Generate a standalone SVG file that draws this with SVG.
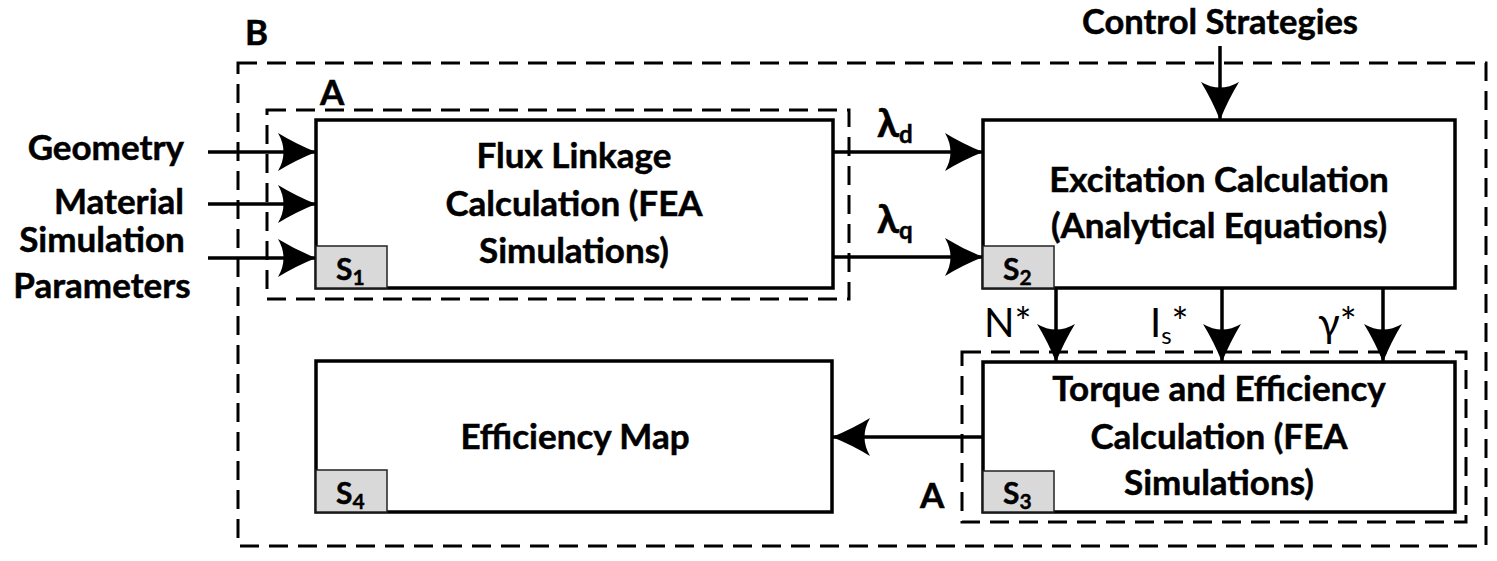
<svg xmlns="http://www.w3.org/2000/svg" width="1497" height="561" viewBox="0 0 1497 561">
<style>
.t{font-family:Lato,"Open Sans","Liberation Sans",sans-serif;font-weight:bold;font-size:35px;fill:#000;stroke:#000;stroke-width:0.5}
.r{font-family:Lato,"Open Sans","Liberation Sans",sans-serif;font-weight:normal;font-size:40px;fill:#000}
.box{fill:#fff;stroke:#000;stroke-width:3.5}
.sbox{fill:#d9d9d9;stroke:#222;stroke-width:1.5}
.dash{fill:none;stroke:#000;stroke-width:3;stroke-dasharray:19 10}
.ln{fill:none;stroke:#000;stroke-width:3.5}
.s{font-family:Lato,"Open Sans","Liberation Sans",sans-serif;font-weight:bold;font-size:30px;fill:#000;stroke:#000;stroke-width:0.4}
.lam{font-family:Lato,"Open Sans","Liberation Sans",sans-serif;font-weight:bold;font-size:40px;fill:#000;stroke:#000;stroke-width:0.5}
.sub{font-size:21px}
.sub2{font-size:24px}
</style>
<defs>
<marker id="ah" markerUnits="userSpaceOnUse" viewBox="-40 -20 42 40" refX="0" refY="0" markerWidth="42" markerHeight="40" orient="auto">
<path d="M0,0 Q-20,-8 -38,-19 Q-27,0 -38,19 Q-20,8 0,0 Z" fill="#000"/>
</marker>
</defs>
<rect width="1497" height="561" fill="#fff"/>
<g id="groupB">
<rect class="dash" x="238" y="63" width="1248" height="483"/>
<text class="t" x="245" y="45">B</text>
</g>
<g id="groupA1">
<rect class="dash" x="267" y="110" width="582" height="189"/>
<text class="t" x="320" y="105">A</text>
</g>
<g id="groupA2">
<rect class="dash" x="962" y="352" width="504" height="170"/>
<text class="t" x="920" y="508">A</text>
</g>
<g id="inputs">
<text class="t" x="184" y="160" text-anchor="end">Geometry</text>
<text class="t" x="184" y="214" text-anchor="end">Material</text>
<text class="t" x="102" y="252" text-anchor="middle">Simulation</text>
<text class="t" x="102" y="298" text-anchor="middle">Parameters</text>
<text class="t" x="1220" y="34" text-anchor="middle" style="font-size:34.5px">Control Strategies</text>
</g>
<g id="connectors">
<line class="ln" x1="208" y1="152" x2="316" y2="152" marker-end="url(#ah)"/>
<line class="ln" x1="208" y1="204" x2="316" y2="204" marker-end="url(#ah)"/>
<line class="ln" x1="208" y1="258" x2="316" y2="258" marker-end="url(#ah)"/>
<line class="ln" x1="833" y1="152" x2="983" y2="152" marker-end="url(#ah)"/>
<line class="ln" x1="833" y1="257" x2="983" y2="257" marker-end="url(#ah)"/>
<line class="ln" x1="1220" y1="46" x2="1220" y2="120" marker-end="url(#ah)"/>
<line class="ln" x1="1056" y1="288" x2="1056" y2="362" marker-end="url(#ah)"/>
<line class="ln" x1="1222" y1="288" x2="1222" y2="362" marker-end="url(#ah)"/>
<line class="ln" x1="1383" y1="288" x2="1383" y2="362" marker-end="url(#ah)"/>
<line class="ln" x1="983" y1="437" x2="832" y2="437" marker-end="url(#ah)"/>
<text class="lam" x="877" y="137">λ<tspan class="sub2" dy="6">d</tspan></text>
<text class="lam" x="877" y="233">λ<tspan class="sub2" dy="6">q</tspan></text>
<text class="r" x="984" y="337">N*</text>
<text class="r" x="1150" y="337">I<tspan class="sub2" dy="7">s</tspan><tspan dy="-7">*</tspan></text>
<text class="r" x="1318" y="337">γ*</text>
</g>
<g id="s1-flux">
<rect class="box" x="316" y="120" width="517" height="168"/>
<text class="t" x="574" y="168" text-anchor="middle">Flux Linkage</text>
<text class="t" x="574" y="216" text-anchor="middle">Calculation (FEA</text>
<text class="t" x="574" y="263" text-anchor="middle">Simulations)</text>
<rect class="sbox" x="316" y="246" width="71" height="42"/>
<text class="s" x="336" y="280">S<tspan class="sub" dy="5">1</tspan></text>
</g>
<g id="s2-excitation">
<rect class="box" x="983" y="120" width="472" height="168"/>
<text class="t" x="1219" y="192" text-anchor="middle">Excitation Calculation</text>
<text class="t" x="1219" y="238" text-anchor="middle">(Analytical Equations)</text>
<rect class="sbox" x="983" y="246" width="71" height="42"/>
<text class="s" x="1003" y="280">S<tspan class="sub" dy="5">2</tspan></text>
</g>
<g id="s3-torque">
<rect class="box" x="983" y="362" width="472" height="150"/>
<text class="t" x="1219" y="401" text-anchor="middle">Torque and Efficiency</text>
<text class="t" x="1219" y="449" text-anchor="middle">Calculation (FEA</text>
<text class="t" x="1219" y="495" text-anchor="middle">Simulations)</text>
<rect class="sbox" x="983" y="471" width="71" height="41"/>
<text class="s" x="1003" y="504">S<tspan class="sub" dy="5">3</tspan></text>
</g>
<g id="s4-map">
<rect class="box" x="316" y="361" width="516" height="151"/>
<text class="t" x="575" y="449" text-anchor="middle">Efficiency Map</text>
<rect class="sbox" x="316" y="470" width="71" height="42"/>
<text class="s" x="336" y="504">S<tspan class="sub" dy="5">4</tspan></text>
</g>
</svg>
